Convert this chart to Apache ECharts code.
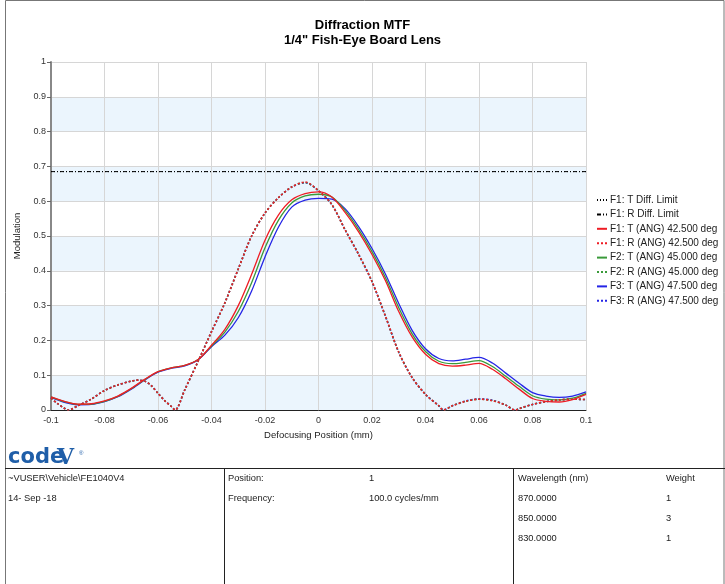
<!DOCTYPE html>
<html>
<head>
<meta charset="utf-8">
<script src="https://cdn.jsdelivr.net/npm/echarts@6/dist/echarts.min.js"></script>
<style>
  html, body { margin: 0; padding: 0; background: #fff; }
  #chart { width: 725px; height: 584px; }
</style>
</head>
<body>
<div id="chart"></div>
<script>
// Defocus positions (mm) for the tangential curves
const defocus = [-0.1, -0.095, -0.09, -0.085, -0.08, -0.075, -0.07, -0.065, -0.06, -0.055,
  -0.05, -0.045, -0.04, -0.035, -0.03, -0.025, -0.02, -0.015, -0.01, -0.005,
  0, 0.005, 0.01, 0.015, 0.02, 0.025, 0.03, 0.035, 0.04, 0.045,
  0.05, 0.055, 0.06, 0.065, 0.07, 0.075, 0.08, 0.085, 0.09, 0.095, 0.1];

// Tangential MTF per field
const tF1 = [0.038, 0.025, 0.017, 0.018, 0.026, 0.040, 0.062, 0.088, 0.110, 0.121,
  0.128, 0.145, 0.186, 0.232, 0.300, 0.390, 0.488, 0.560, 0.604, 0.622,
  0.627, 0.612, 0.567, 0.512, 0.447, 0.372, 0.283, 0.210, 0.160, 0.133,
  0.126, 0.129, 0.134, 0.117, 0.090, 0.060, 0.033, 0.025, 0.023, 0.030, 0.045];
const tF2 = [0.038, 0.024, 0.016, 0.017, 0.025, 0.039, 0.061, 0.087, 0.110, 0.121,
  0.128, 0.145, 0.184, 0.224, 0.283, 0.366, 0.466, 0.545, 0.595, 0.615,
  0.620, 0.612, 0.573, 0.519, 0.455, 0.381, 0.294, 0.219, 0.168, 0.140,
  0.133, 0.137, 0.142, 0.125, 0.097, 0.068, 0.041, 0.031, 0.029, 0.034, 0.048];
const tF3 = [0.036, 0.022, 0.015, 0.016, 0.024, 0.038, 0.060, 0.086, 0.109, 0.120,
  0.127, 0.144, 0.182, 0.215, 0.265, 0.342, 0.440, 0.525, 0.583, 0.603,
  0.608, 0.606, 0.578, 0.527, 0.464, 0.391, 0.306, 0.229, 0.176, 0.148,
  0.141, 0.146, 0.151, 0.135, 0.106, 0.077, 0.050, 0.040, 0.036, 0.040, 0.052];

// Defocus positions (mm) for the radial curves
const defocusR = [-0.1, -0.0975, -0.095, -0.0935, -0.09, -0.085, -0.08, -0.075, -0.07, -0.0675,
  -0.065, -0.0625, -0.06, -0.0575, -0.055, -0.0536, -0.05, -0.045, -0.04, -0.035,
  -0.03, -0.025, -0.02, -0.015, -0.01, -0.005, 0, 0.005, 0.01, 0.015,
  0.02, 0.025, 0.03, 0.035, 0.04, 0.045, 0.0467, 0.05, 0.055, 0.06,
  0.065, 0.07, 0.0735, 0.075, 0.08, 0.085, 0.09, 0.095, 0.1];

// Radial MTF per field
const rF1 = [0.034, 0.018, 0.005, 0, 0.012, 0.031, 0.056, 0.072, 0.083, 0.086,
  0.083, 0.070, 0.048, 0.027, 0.010, 0, 0.058, 0.140, 0.225, 0.308,
  0.405, 0.500, 0.566, 0.610, 0.641, 0.655, 0.630, 0.590, 0.517, 0.447,
  0.369, 0.270, 0.166, 0.093, 0.045, 0.012, 0, 0.012, 0.025, 0.031,
  0.027, 0.014, 0, 0.004, 0.016, 0.024, 0.029, 0.031, 0.030];
const rF2 = [0.034, 0.018, 0.005, 0, 0.012, 0.031, 0.056, 0.072, 0.083, 0.086,
  0.083, 0.070, 0.048, 0.027, 0.010, 0, 0.058, 0.140, 0.225, 0.308,
  0.405, 0.500, 0.566, 0.610, 0.641, 0.654, 0.630, 0.590, 0.517, 0.447,
  0.369, 0.270, 0.166, 0.093, 0.045, 0.012, 0, 0.012, 0.025, 0.031,
  0.027, 0.014, 0, 0.004, 0.016, 0.024, 0.029, 0.031, 0.030];
const rF3 = [0.034, 0.018, 0.005, 0, 0.012, 0.031, 0.056, 0.072, 0.083, 0.086,
  0.083, 0.070, 0.048, 0.027, 0.010, 0, 0.058, 0.140, 0.225, 0.308,
  0.405, 0.500, 0.566, 0.610, 0.641, 0.653, 0.630, 0.590, 0.517, 0.447,
  0.369, 0.270, 0.166, 0.093, 0.045, 0.012, 0, 0.012, 0.026, 0.032,
  0.028, 0.014, 0, 0.004, 0.016, 0.024, 0.029, 0.031, 0.030];

// Diffraction limit (same for T and R)
const diffLimit = 0.685;
const xRange = [-0.1, 0.1];

const seriesNames = [
  'F1: T Diff. Limit', 'F1: R Diff. Limit',
  'F1: T (ANG) 42.500 deg', 'F1: R (ANG) 42.500 deg',
  'F2: T (ANG) 45.000 deg', 'F2: R (ANG) 45.000 deg',
  'F3: T (ANG) 47.500 deg', 'F3: R (ANG) 47.500 deg'
];

// Footer table text
const fileInfo = ['~VUSER\\Vehicle\\FE1040V4', '14- Sep -18'];
const settings = [['Position:', '1'], ['Frequency:', '100.0 cycles/mm']];
const wavelengths = [['Wavelength (nm)', 'Weight'], ['870.0000', '1'], ['850.0000', '3'], ['830.0000', '1']];

const RED = '#ee1c24', GREEN = '#3a9a3a', BLUE = '#2424e6';
const FONT = '"Liberation Sans", Arial, sans-serif';
const CELL_FONT = '9.3px ' + FONT;

const pairs = (xs, ys) => xs.map((x, i) => [x, ys[i]]);

function curve(name, xs, ys, color, dotted, z) {
  return {
    name, type: 'line', data: pairs(xs, ys), showSymbol: false, symbol: 'none',
    smooth: 0.3, z,
    lineStyle: { color, width: dotted ? 1.6 : 1.3, type: dotted ? [2, 2] : 'solid' },
    itemStyle: { color }
  };
}

const rowY = [479, 499, 519, 539];
const graphic = [
  { type: 'rect', shape: { x: 5.5, y: 0.5, width: 718.5, height: 590 }, style: { fill: 'none', stroke: '#777', lineWidth: 1 }, silent: true },
  { type: 'line', shape: { x1: 5, y1: 468.5, x2: 725, y2: 468.5 }, style: { stroke: '#222', lineWidth: 1 } },
  { type: 'line', shape: { x1: 224.5, y1: 468, x2: 224.5, y2: 584 }, style: { stroke: '#222', lineWidth: 1 } },
  { type: 'line', shape: { x1: 513.5, y1: 468, x2: 513.5, y2: 584 }, style: { stroke: '#222', lineWidth: 1 } },
  // logo
  { type: 'text', left: 8, top: 447, style: { text: 'code', fill: '#1f5ea8', font: 'bold 21px "DejaVu Sans"' } },
  { type: 'text', left: 57, top: 447, style: { text: 'V', fill: '#1f5ea8', font: 'bold 22px "DejaVu Serif"' } },
  { type: 'text', left: 79, top: 450, style: { text: '®', fill: '#1f5ea8', font: '6px ' + FONT } }
];
fileInfo.forEach((t, i) => graphic.push({ type: 'text', left: 8, top: rowY[i] - 5, style: { text: t, fill: '#222', font: CELL_FONT } }));
settings.forEach((r, i) => {
  graphic.push({ type: 'text', left: 228, top: rowY[i] - 5, style: { text: r[0], fill: '#222', font: CELL_FONT } });
  graphic.push({ type: 'text', left: 369, top: rowY[i] - 5, style: { text: r[1], fill: '#222', font: CELL_FONT } });
});
wavelengths.forEach((r, i) => {
  graphic.push({ type: 'text', left: 518, top: rowY[i] - 5, style: { text: r[0], fill: '#222', font: CELL_FONT } });
  graphic.push({ type: 'text', left: 666, top: rowY[i] - 5, style: { text: r[1], fill: '#222', font: CELL_FONT } });
});

const chart = echarts.init(document.getElementById('chart'), null, { renderer: 'canvas' });
chart.setOption({
  animation: false,
  backgroundColor: '#fff',
  title: {
    text: 'Diffraction MTF\n1/4" Fish-Eye Board Lens',
    left: 'center', top: 13,
    textStyle: { fontFamily: FONT, fontSize: 13, fontWeight: 'bold', color: '#000', lineHeight: 15 }
  },
  legend: {
    orient: 'vertical', left: 596, top: 195, padding: 0,
    itemWidth: 10, itemHeight: 8, itemGap: 4.4,
    itemStyle: { color: 'transparent', borderWidth: 0, opacity: 0 },
    textStyle: { fontFamily: FONT, fontSize: 10, color: '#222', padding: [0, 0, 0, -2] },
    data: seriesNames
  },
  grid: { left: 51, right: 139, top: 62, bottom: 174 },
  xAxis: {
    type: 'value', min: xRange[0], max: xRange[1], interval: 0.02,
    name: 'Defocusing Position (mm)', nameLocation: 'middle', nameGap: 19,
    nameTextStyle: { fontFamily: FONT, fontSize: 9.5, color: '#222' },
    axisLine: { onZero: false, lineStyle: { color: '#222', width: 1 } },
    axisTick: { show: false },
    axisLabel: { fontFamily: FONT, fontSize: 9, color: '#333', margin: 6,
      formatter: v => String(+v.toFixed(2)) },
    splitLine: { show: true, lineStyle: { color: '#d6d6d6', width: 1 } }
  },
  yAxis: {
    type: 'value', min: 0, max: 1, interval: 0.1,
    name: 'Modulation', nameLocation: 'middle', nameGap: 24,
    nameTextStyle: { fontFamily: FONT, fontSize: 9.5, color: '#222' },
    axisLine: { show: true, onZero: false, lineStyle: { color: '#888', width: 2 } },
    axisTick: { show: true, length: 4, lineStyle: { color: '#666' } },
    axisLabel: { fontFamily: FONT, fontSize: 9, color: '#333', margin: 5,
      formatter: v => String(+v.toFixed(1)) },
    splitLine: { show: true, lineStyle: { color: '#d6d6d6', width: 1 } },
    splitArea: { show: true, areaStyle: { color: ['#ebf5fd', '#ffffff'] } }
  },
  series: [
    { name: seriesNames[0], type: 'line', symbol: 'none', z: 5,
      data: [[xRange[0], diffLimit], [xRange[1], diffLimit]],
      lineStyle: { color: '#000', width: 1, type: [1, 2] }, itemStyle: { color: '#000' } },
    { name: seriesNames[1], type: 'line', symbol: 'none', z: 5,
      data: [[xRange[0], diffLimit], [xRange[1], diffLimit]],
      lineStyle: { color: '#000', width: 1, type: [4, 2, 1, 2] }, itemStyle: { color: '#000' } },
    curve(seriesNames[2], defocus, tF1, RED, false, 4),
    curve(seriesNames[3], defocusR, rF1, RED, true, 4),
    curve(seriesNames[4], defocus, tF2, GREEN, false, 3),
    curve(seriesNames[5], defocusR, rF2, GREEN, true, 3),
    curve(seriesNames[6], defocus, tF3, BLUE, false, 2),
    curve(seriesNames[7], defocusR, rF3, BLUE, true, 2)
  ],
  graphic
});
</script>
</body>
</html>
